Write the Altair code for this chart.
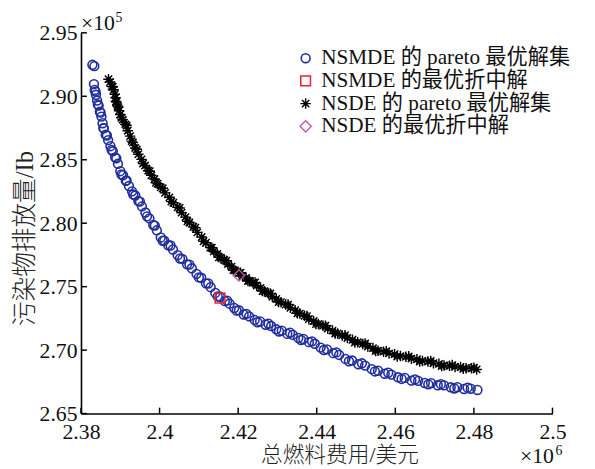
import altair as alt
import pandas as pd

# NSMDE pareto front (x: total fuel cost, x10^6 $ ; y: emission, x10^5 lb)
nsmde_x = [2.3829, 2.3834,
           2.3833, 2.3835, 2.3838, 2.3841, 2.3845, 2.3848, 2.3852, 2.3855, 2.3858,
           2.3863, 2.3869, 2.3875, 2.3881, 2.3887, 2.3894, 2.3900,
           2.3907, 2.3914, 2.3922, 2.3930, 2.3938, 2.3946,
           2.3955, 2.3964, 2.3974, 2.3984, 2.3993, 2.4003,
           2.4012, 2.4022, 2.4034, 2.4046,
           2.4058, 2.4070, 2.4082, 2.4094, 2.4106, 2.4118, 2.4130, 2.4142, 2.4154,
           2.4166, 2.4178, 2.4190, 2.4202, 2.4214,
           2.4228, 2.4242, 2.4256, 2.4270, 2.4284, 2.4297,
           2.4311, 2.4325, 2.4339, 2.4353, 2.4366, 2.4380,
           2.4395, 2.4410, 2.4426, 2.4442, 2.4457, 2.4473,
           2.4490, 2.4506, 2.4523, 2.4540, 2.4556,
           2.4573, 2.4590, 2.4607, 2.4624, 2.4641,
           2.4658, 2.4675, 2.4691, 2.4708, 2.4724,
           2.4741, 2.4758, 2.4775, 2.4792, 2.4809,
           2.3837, 2.3843, 2.3850, 2.3857, 2.3866, 2.3878, 2.3890, 2.3903, 2.3916, 2.3933,
           2.3950, 2.3968, 2.3988, 2.4008, 2.4028, 2.4052, 2.4076, 2.4100, 2.4124, 2.4148,
           2.4172, 2.4196, 2.4221, 2.4249, 2.4277, 2.4304, 2.4332, 2.4360, 2.4388, 2.4418,
           2.4450, 2.4482, 2.4515, 2.4548, 2.4582, 2.4616, 2.4650, 2.4684, 2.4716, 2.4750,
           2.4784]
nsmde_y = [2.9248, 2.9238,
           2.9096, 2.9050, 2.9012, 2.8966, 2.8927, 2.8878, 2.8840, 2.8788, 2.8748,
           2.8698, 2.8655, 2.8607, 2.8567, 2.8519, 2.8468, 2.8410,
           2.8378, 2.8334, 2.8293, 2.8251, 2.8218, 2.8175,
           2.8133, 2.8084, 2.8038, 2.7986, 2.7944, 2.7888,
           2.7863, 2.7826, 2.7793, 2.7748,
           2.7719, 2.7676, 2.7645, 2.7601, 2.7570, 2.7526, 2.7496, 2.7451, 2.7420,
           2.7386, 2.7366, 2.7332, 2.7314, 2.7281,
           2.7266, 2.7238, 2.7226, 2.7200, 2.7190, 2.7164,
           2.7154, 2.7128, 2.7120, 2.7096, 2.7088, 2.7063,
           2.7050, 2.7020, 2.7006, 2.6976, 2.6962, 2.6931,
           2.6918, 2.6889, 2.6878, 2.6850, 2.6838,
           2.6814, 2.6807, 2.6786, 2.6781, 2.6760,
           2.6758, 2.6741, 2.6740, 2.6723, 2.6722,
           2.6707, 2.6708, 2.6694, 2.6696, 2.6686,
           2.9037, 2.8936, 2.8871, 2.8749, 2.8691, 2.8577, 2.8511, 2.8384, 2.8337, 2.8226,
           2.8170, 2.8054, 2.7981, 2.7862, 2.7824, 2.7722, 2.7674, 2.7573, 2.7525, 2.7423,
           2.7390, 2.7311, 2.7286, 2.7220, 2.7208, 2.7147, 2.7137, 2.7080, 2.7069, 2.7001,
           2.6982, 2.6912, 2.6896, 2.6832, 2.6822, 2.6773, 2.6769, 2.6730, 2.6732, 2.6698,
           2.6704]

# NSDE pareto front
nsde_x = [2.3870, 2.3874, 2.3878, 2.3883, 2.3886, 2.3888, 2.3890, 2.3893, 2.3897, 2.3900,
          2.3906, 2.3913, 2.3919, 2.3925, 2.3932, 2.3938,
          2.3946, 2.3954, 2.3963, 2.3971, 2.3979, 2.3987, 2.3995, 2.4003,
          2.4014, 2.4025, 2.4035, 2.4046,
          2.4056, 2.4066, 2.4076, 2.4086, 2.4096, 2.4107, 2.4118, 2.4129,
          2.4138, 2.4147, 2.4156, 2.4165, 2.4174, 2.4183, 2.4192, 2.4202,
          2.4211, 2.4220, 2.4229, 2.4238, 2.4247,
          2.4257, 2.4267, 2.4277, 2.4287, 2.4297,
          2.4309, 2.4321, 2.4333, 2.4345, 2.4357, 2.4369, 2.4380,
          2.4392, 2.4404, 2.4416, 2.4428, 2.4440, 2.4453, 2.4465,
          2.4478, 2.4491, 2.4504, 2.4517, 2.4530, 2.4543, 2.4556,
          2.4570, 2.4584, 2.4598, 2.4613, 2.4627, 2.4641,
          2.4655, 2.4669, 2.4683, 2.4697, 2.4711, 2.4724,
          2.4738, 2.4752, 2.4766, 2.4780, 2.4794, 2.4807,
          2.3881, 2.3889, 2.3895, 2.3903, 2.3916, 2.3929, 2.3942, 2.3958, 2.3975, 2.3991,
          2.4008, 2.4030, 2.4051, 2.4071, 2.4091, 2.4112, 2.4133, 2.4151, 2.4170, 2.4188,
          2.4206, 2.4225, 2.4243, 2.4262, 2.4282, 2.4303, 2.4327, 2.4351, 2.4375, 2.4398,
          2.4422, 2.4447, 2.4472, 2.4497, 2.4523, 2.4550, 2.4577, 2.4605, 2.4634, 2.4662,
          2.4690, 2.4718, 2.4745, 2.4773, 2.4800]
nsde_y = [2.9135, 2.9112, 2.9078, 2.9051, 2.9016, 2.8989, 2.8954, 2.8924, 2.8886, 2.8857,
          2.8816, 2.8779, 2.8729, 2.8686, 2.8636, 2.8593,
          2.8544, 2.8503, 2.8455, 2.8414, 2.8377, 2.8348, 2.8311, 2.8282,
          2.8239, 2.8204, 2.8161, 2.8126,
          2.8083, 2.8048, 2.8006, 2.7971, 2.7928, 2.7891, 2.7846, 2.7808,
          2.7779, 2.7758, 2.7729, 2.7708, 2.7679, 2.7658, 2.7628, 2.7606,
          2.7584, 2.7569, 2.7546, 2.7531, 2.7508,
          2.7490, 2.7464, 2.7447, 2.7421, 2.7404,
          2.7378, 2.7359, 2.7333, 2.7315, 2.7288, 2.7270, 2.7244,
          2.7229, 2.7206, 2.7192, 2.7169, 2.7154, 2.7131, 2.7116,
          2.7095, 2.7082, 2.7062, 2.7049, 2.7028, 2.7016, 2.6995,
          2.6988, 2.6974, 2.6968, 2.6953, 2.6947, 2.6933,
          2.6928, 2.6915, 2.6910, 2.6897, 2.6892, 2.6879,
          2.6877, 2.6868, 2.6867, 2.6858, 2.6857, 2.6848,
          2.9075, 2.8960, 2.8915, 2.8830, 2.8770, 2.8647, 2.8582, 2.8470, 2.8410, 2.8318,
          2.8275, 2.8170, 2.8120, 2.8015, 2.7965, 2.7858, 2.7807, 2.7732, 2.7705, 2.7630,
          2.7610, 2.7545, 2.7533, 2.7465, 2.7447, 2.7379, 2.7359, 2.7290, 2.7268, 2.7205,
          2.7193, 2.7131, 2.7118, 2.7060, 2.7052, 2.6993, 2.6992, 2.6950, 2.6951, 2.6910,
          2.6914, 2.6874, 2.6882, 2.6853, 2.6862]

nsmde_best_x = [2.4154]
nsmde_best_y = [2.7409]
nsde_best_x = [2.4202]
nsde_best_y = [2.7588]

series_names = ["NSMDE 的 pareto 最优解集", "NSMDE 的最优折中解",
                "NSDE 的 pareto 最优解集", "NSDE 的最优折中解"]
series_colors = ["#1f2d9c", "#e8242c", "#000000", "#c55ca6"]
star_path = "M0,-1L0,1M-1,0L1,0M-0.7,-0.7L0.7,0.7M-0.7,0.7L0.7,-0.7"
series_shapes = ["circle", "square", star_path, "diamond"]
series_sizes = [80, 130, 120, 175]
series_strokes = [1.6, 1.4, 1.7, 1.4]

x_ticks = [2.38, 2.40, 2.42, 2.44, 2.46, 2.48, 2.50]
y_ticks = [2.65, 2.70, 2.75, 2.80, 2.85, 2.90, 2.95]

W, H = 478, 386
FONT = "Liberation Serif, Noto Sans CJK SC"

rows = []
for xs, ys, name in [(nsmde_x, nsmde_y, series_names[0]),
                     (nsde_x, nsde_y, series_names[2]),
                     (nsmde_best_x, nsmde_best_y, series_names[1]),
                     (nsde_best_x, nsde_best_y, series_names[3])]:
    for a, b in zip(xs, ys):
        rows.append({"x": a, "y": b, "series": name})
df = pd.DataFrame(rows)

xscale = alt.Scale(domain=[2.38, 2.50], nice=False, zero=False)
yscale = alt.Scale(domain=[2.65, 2.95], nice=False, zero=False)

leg = alt.Legend(title=None, orient="none", legendX=217, legendY=15,
                 labelFont=FONT, labelFontSize=21.5, labelColor="#111111",
                 labelLimit=500, labelOffset=5, rowPadding=0, padding=0)

points = alt.Chart(df).mark_point(filled=False, opacity=1).encode(
    x=alt.X("x:Q", scale=xscale,
            axis=alt.Axis(values=x_ticks, format="~g", labelFlush=False,
                          labelPadding=8, title="总燃料费用/美元",
                          titleX=262, titleY=42, titleAlign="center",
                          titleBaseline="middle", titleFontSize=22)),
    y=alt.Y("y:Q", scale=yscale,
            axis=alt.Axis(values=y_ticks, format=".2f", labelFlush=False,
                          labelPadding=4, title="污染物排放量/Ib",
                          titleX=-57, titleY=208, titleAngle=270,
                          titleAlign="center", titleBaseline="middle",
                          titleFontSize=25)),
    color=alt.Color("series:N", scale=alt.Scale(domain=series_names, range=series_colors), legend=leg),
    shape=alt.Shape("series:N", scale=alt.Scale(domain=series_names, range=series_shapes), legend=leg),
    size=alt.Size("series:N", scale=alt.Scale(domain=series_names, range=series_sizes), legend=leg),
    strokeWidth=alt.StrokeWidth("series:N", scale=alt.Scale(domain=series_names, range=series_strokes), legend=leg),
)

xt = alt.Chart(pd.DataFrame({"x": x_ticks})).mark_rule(color="black", strokeWidth=1.5).encode(
    x=alt.X("x:Q", scale=xscale), y=alt.value(H - 6), y2=alt.value(H))
yt = alt.Chart(pd.DataFrame({"y": y_ticks})).mark_rule(color="black", strokeWidth=1.5).encode(
    y=alt.Y("y:Q", scale=yscale), x=alt.value(0), x2=alt.value(6))

ann = pd.DataFrame({"t": ["×10"]})
exp5 = alt.Chart(ann).mark_text(text="×10", font="Liberation Serif", fontSize=22,
                                align="left", baseline="alphabetic", color="#111111").encode(
    x=alt.value(0), y=alt.value(-3))
exp5s = alt.Chart(ann).mark_text(text="5", font="Liberation Serif", fontSize=14,
                                 align="left", baseline="alphabetic", color="#111111").encode(
    x=alt.value(35), y=alt.value(-11))
exp6 = alt.Chart(ann).mark_text(text="×10", font="Liberation Serif", fontSize=22,
                                align="left", baseline="alphabetic", color="#111111").encode(
    x=alt.value(445), y=alt.value(436))
exp6s = alt.Chart(ann).mark_text(text="6", font="Liberation Serif", fontSize=14,
                                 align="left", baseline="alphabetic", color="#111111").encode(
    x=alt.value(481), y=alt.value(428))

chart = alt.layer(points, xt, yt, exp5, exp5s, exp6, exp6s).properties(
    width=W, height=H,
    autosize=alt.AutoSizeParams(type="none"),
    padding={"left": 74, "top": 22, "right": 35, "bottom": 53},
).configure_view(stroke=None).configure_axis(
    domainColor="black", domainWidth=1.6, ticks=False, grid=False,
    labelFont=FONT, labelFontSize=22, labelColor="#111111",
    titleFont=FONT, titleFontWeight=300, titleColor="#222222",
)

chart.save("out.html", embed_options={"renderer": "svg", "actions": False})
